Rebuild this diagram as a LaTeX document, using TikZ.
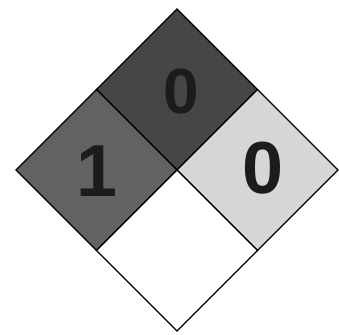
\documentclass[tikz,border=0pt]{standalone}
\usepackage{fontspec}
\setmainfont{Liberation Sans}
\usepackage{tikz}
\usetikzlibrary{calc}
\definecolor{HealthGray}{RGB}{98,98,98}
\definecolor{FireGray}{RGB}{70,70,70}
\definecolor{ReactGray}{RGB}{214,214,214}
\definecolor{DigitInk}{RGB}{28,28,28}
\tikzset{
  quad/.style={draw=black,line width=1.3bp,line join=miter},
  rating/.style={font=\bfseries\fontsize{74}{74}\selectfont,text=DigitInk,inner sep=0pt},
}

\begin{document}
\begin{tikzpicture}[x=1bp,y=-1bp]
  \useasboundingbox (0,0) rectangle (339,335);
  % outer corners and edge midpoints
  \coordinate (T) at (177,9);
  \coordinate (L) at (16,170);
  \coordinate (R) at (338,170);
  \coordinate (B) at (177,331);
  \coordinate (C) at (177,170);
  \coordinate (TL) at ($(T)!0.5!(L)$);
  \coordinate (TR) at ($(T)!0.5!(R)$);
  \coordinate (BL) at ($(B)!0.5!(L)$);
  \coordinate (BR) at ($(B)!0.5!(R)$);

  % the four quarters
  \filldraw[quad,fill=FireGray] (T) -- (TR) -- (C) -- (TL) -- cycle;
  \filldraw[quad,fill=HealthGray] (TL) -- (C) -- (BL) -- (L) -- cycle;
  \filldraw[quad,fill=ReactGray] (TR) -- (R) -- (BR) -- (C) -- cycle;
  \filldraw[quad,fill=white] (C) -- (BR) -- (B) -- (BL) -- cycle;

  % ratings
  \node[rating,font=\bfseries\fontsize{64}{64}\selectfont] (fire) at (181,92) {0};
  \node[rating] (health) at (97,171) {1};
  \node[rating] (react) at (263,168) {0};
\end{tikzpicture}
\end{document}
